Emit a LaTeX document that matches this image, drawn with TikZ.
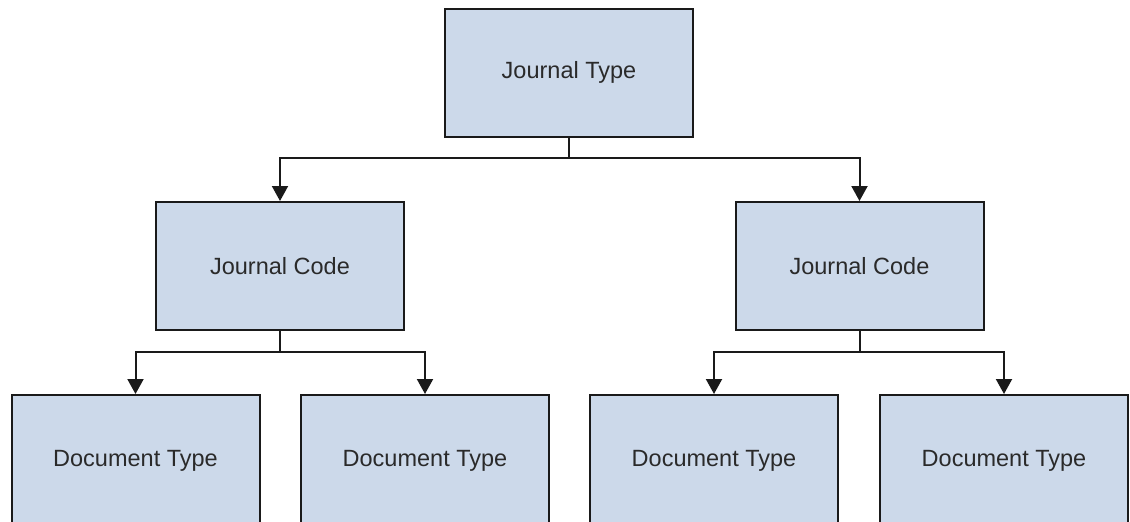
\documentclass[tikz,border=0pt]{standalone}
\usepackage{fontspec}
\setmainfont{Liberation Sans}
\usetikzlibrary{arrows.meta}
\definecolor{boxfill}{HTML}{CCD9EA}
\definecolor{boxline}{HTML}{1A1A1A}
\definecolor{txt}{HTML}{2A2A2A}
\begin{document}
\begin{tikzpicture}[x=1pt,y=-1pt,
  box/.style={draw=boxline, fill=boxfill, line width=2pt, minimum width=248pt, minimum height=128pt, inner sep=0pt, text=txt, font=\fontsize{23.5}{28}\selectfont},
  conn/.style={draw=boxline, line width=2pt, -{Triangle[width=16pt,length=15pt]}}]
\useasboundingbox (0,0) rectangle (1130,522);
\clip (0,0) rectangle (1130,522);
\node[box] (jt) at (569,72.5) {Journal Type};
\node[box] (jc1) at (280,266) {Journal Code};
\node[box] (jc2) at (859.5,266) {Journal Code};
\node[box, minimum height=132pt] (d1) at (135.5,461) {Document Type};
\node[box, minimum height=132pt] (d2) at (425,461) {Document Type};
\node[box, minimum height=132pt] (d3) at (714,461) {Document Type};
\node[box, minimum height=132pt] (d4) at (1004,461) {Document Type};
\coordinate (j0) at (569,158);
\coordinate (j1) at (280,352);
\coordinate (j2) at (859.5,352);
\draw[line width=2pt, draw=boxline] (jt.south) -- (j0);
\draw[conn] (j0) -| (jc1.north);
\draw[conn] (j0) -| (jc2.north);
\draw[line width=2pt, draw=boxline] (jc1.south) -- (j1);
\draw[conn] (j1) -| (d1.north);
\draw[conn] (j1) -| (d2.north);
\draw[line width=2pt, draw=boxline] (jc2.south) -- (j2);
\draw[conn] (j2) -| (d3.north);
\draw[conn] (j2) -| (d4.north);
\end{tikzpicture}
\end{document}
